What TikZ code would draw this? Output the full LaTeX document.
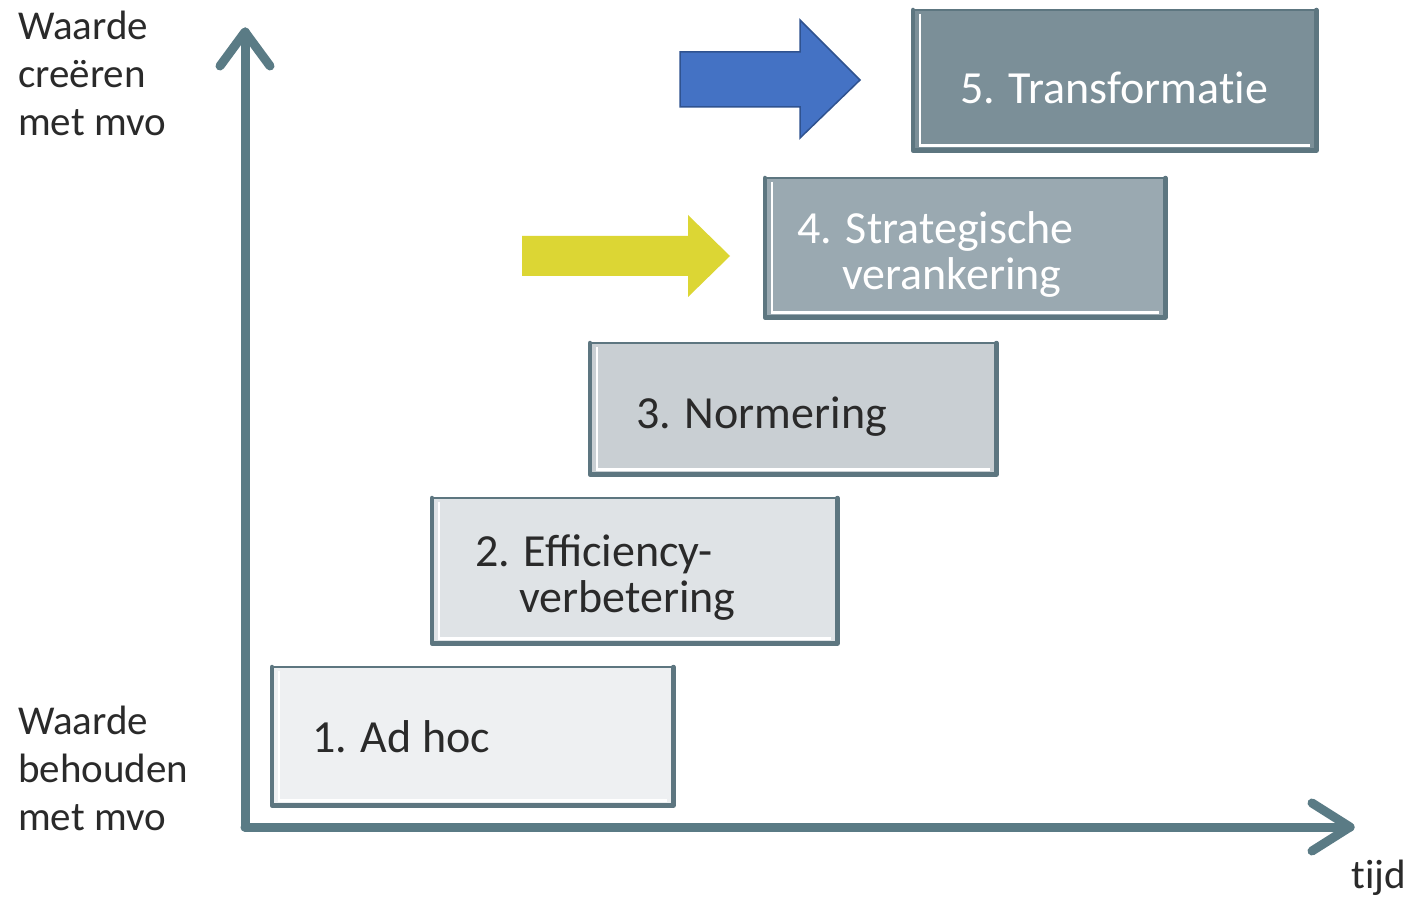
\documentclass[tikz,border=0pt]{standalone}
\usepackage{fontspec}
\setmainfont{Carlito}
\definecolor{axiscol}{HTML}{5A7B85}
\definecolor{edgecol}{HTML}{5D7680}
\definecolor{cA}{HTML}{EEF0F2}
\definecolor{cB}{HTML}{DFE3E6}
\definecolor{cC}{HTML}{C9CFD3}
\definecolor{cD}{HTML}{9AA9B1}
\definecolor{cE}{HTML}{7B8F98}
\definecolor{blueA}{HTML}{4472C4}
\definecolor{blueB}{HTML}{2F528F}
\definecolor{yelA}{HTML}{DCD634}
\definecolor{txt}{HTML}{2A2A2A}
\begin{document}
\begin{tikzpicture}[x=1pt,y=-1pt,
  axis/.style={draw=axiscol, line width=9pt, line cap=round, line join=round},
  stagebox/.style={draw=none, inner sep=0pt, anchor=north west},
  edgethick/.style={draw=edgecol, line width=4.5pt, line cap=round, line join=round},
  edgethin/.style={draw=edgecol, line width=2pt, line cap=round},
  innerline/.style={draw=white, line width=2.5pt},
  lbl/.style={inner sep=0pt, anchor=base west, font=\fontsize{41}{48}\selectfont, text=txt, align=left},
  stagetxt/.style={inner sep=0pt, anchor=base west, font=\fontsize{46}{46}\selectfont, align=left},
]
\useasboundingbox (0,0) rectangle (1411,901);
\fill[white] (0,0) rectangle (1411,901);

% boxes
\node[stagebox, fill=cA, minimum width=401pt, minimum height=138pt] (b1) at (272,667) {};
\node[stagebox, fill=cB, minimum width=405pt, minimum height=145pt] (b2) at (432,498) {};
\node[stagebox, fill=cC, minimum width=406pt, minimum height=131pt] (b3) at (590,343) {};
\node[stagebox, fill=cD, minimum width=400pt, minimum height=139pt] (b4) at (765,178) {};
\node[stagebox, fill=cE, minimum width=403pt, minimum height=140pt] (b5) at (913,10) {};

\foreach \b in {b1,b2,b3,b4,b5}{
  \draw[innerline] ([xshift=7pt,yshift=-4pt]\b.north west) -- ([xshift=7pt,yshift=5pt]\b.south west) -- ([xshift=-6pt,yshift=5pt]\b.south east);
  \draw[edgethick] (\b.north west) -- (\b.south west) -- (\b.south east) -- (\b.north east);
  \draw[edgethin] (\b.north west) -- (\b.north east);
}

% stage texts (base = baseline of last line)
\node[stagetxt, text=txt] (t1) at (312,752) {1. Ad hoc};
\node[stagetxt, text=txt] (t2) at (475,612) {2. Efficiency-\\\hspace*{44pt}verbetering};
\node[stagetxt, text=txt] (t3) at (636,428) {3. Normering};
\node[stagetxt, text=white] (t4) at (797,290) {4. Strategische\\\hspace*{45pt}verankering};
\node[stagetxt, text=white] (t5) at (960,104) {5. Transformat\kern0pt ie};

% axes
\coordinate (o) at (245,827);
\coordinate (ytop) at (245,32);
\coordinate (xend) at (1350,827);
\draw[axis] (o) -- (ytop);
\draw[axis] (o) -- (xend);
\draw[axis] ([shift={(-25,34)}]ytop) -- (ytop) -- ([shift={(25,34)}]ytop);
\draw[axis] ([shift={(-38,-24)}]xend) -- (xend) -- ([shift={(-38,24)}]xend);

% arrows
\draw[fill=blueA, draw=blueB, line width=1.5pt, line join=miter]
  (680,52) -- (800,52) -- (800,20) -- (860,80) -- (800,138) -- (800,107) -- (680,107) -- cycle;
\fill[yelA] (522,236) -- (688,236) -- (688,215) -- (730,256) -- (688,297) -- (688,276) -- (522,276) -- cycle;

% axis labels
\node[lbl] (ltop) at (18,136) {Waarde\\creëren\\met mvo};
\node[lbl] (lbot) at (18,830) {Waarde\\behouden\\met mvo};
\node[lbl, anchor=base east] (ltijd) at (1406,888) {t\kern0pt ijd};
\end{tikzpicture}
\end{document}
